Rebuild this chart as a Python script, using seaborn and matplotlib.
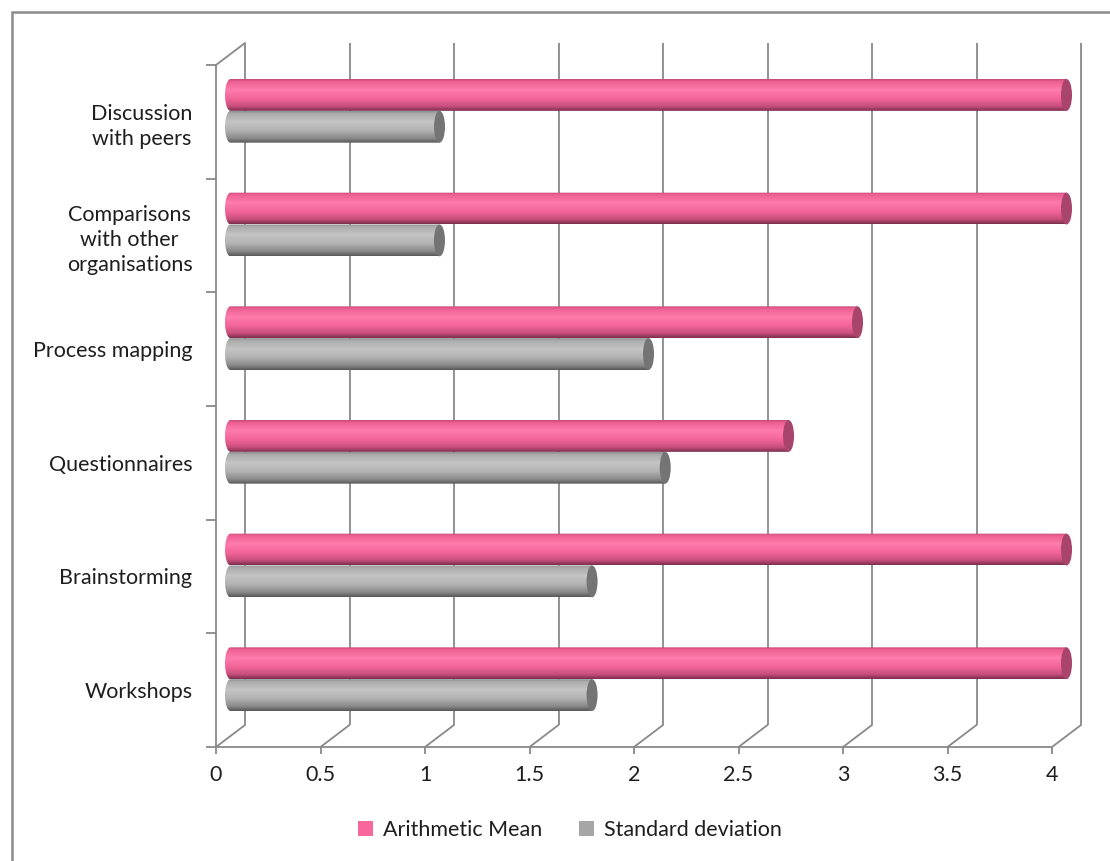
import numpy as np
import pandas as pd
import matplotlib
matplotlib.use("Agg")
import matplotlib.pyplot as plt
import matplotlib.transforms as mtransforms
from matplotlib.path import Path
from matplotlib.patches import PathPatch, Ellipse, Rectangle
from matplotlib.colors import LinearSegmentedColormap, to_rgb
from matplotlib.ticker import FixedLocator
import seaborn as sns

# ---- data ----
methods = [
    "Discussion\nwith peers",
    "Comparisons\nwith other\norganisations",
    "Process mapping",
    "Questionnaires",
    "Brainstorming",
    "Workshops",
]
arithmetic_mean = [4.0, 4.0, 3.0, 2.67, 4.0, 4.0]
standard_deviation = [1.0, 1.0, 2.0, 2.08, 1.73, 1.73]
series_names = ["Arithmetic Mean", "Standard deviation"]
x_ticks = [0, 0.5, 1, 1.5, 2, 2.5, 3, 3.5, 4]
x_tick_labels = ["0", "0.5", "1", "1.5", "2", "2.5", "3", "3.5", "4"]

df = pd.DataFrame({
    "Method": methods * 2,
    "Statistic": [series_names[0]] * len(methods) + [series_names[1]] * len(methods),
    "Value": arithmetic_mean + standard_deviation,
})

sns.set_theme(style="white")
plt.rcParams["font.family"] = ["Lato", "DejaVu Sans"]

W, H = 1110, 861
fig = plt.figure(figsize=(W / 100, H / 100), dpi=100)

# plot box (front plane) in pixels
px_left, px_right, px_top, px_bottom = 216, 1052, 65, 747
ax = fig.add_axes([px_left / W, (H - px_bottom) / H,
                   (px_right - px_left) / W, (px_bottom - px_top) / H])

pink = "#f8679c"
grey = "#a6a6a6"
sns.barplot(data=df, y="Method", x="Value", hue="Statistic", orient="h",
            width=0.56, palette=[pink, grey], ax=ax, legend=False,
            saturation=1, errorbar=None)

n = len(methods)
ax.set_xlim(0, 4)
ax.set_ylim(n - 0.5, -0.5)

# depth of the 3-D box, in data units
px_per_x = (px_right - px_left) / 4.0
px_per_cat = (px_bottom - px_top) / n
depth_px_x, depth_px_y = 29, 22
dx = depth_px_x / px_per_x
dy = depth_px_y / px_per_cat

frame_c = "#898989"
lw = 1.3
text_c = "#1e1e1e"
fs = 15.5

# back wall gridlines and floor diagonals
for xv in x_ticks:
    ax.plot([xv + dx, xv + dx], [n - 0.5 - dy, -0.5 - dy], color=frame_c,
            lw=lw, clip_on=False, zorder=1, solid_capstyle="butt")
    ax.plot([xv, xv + dx], [n - 0.5, n - 0.5 - dy], color=frame_c,
            lw=lw, clip_on=False, zorder=1)
# top of the left wall
ax.plot([0, dx], [-0.5, -0.5 - dy], color=frame_c, lw=lw, clip_on=False, zorder=1)

# spines = front edges of the box
for s in ["top", "right"]:
    ax.spines[s].set_visible(False)
for s in ["left", "bottom"]:
    ax.spines[s].set_color(frame_c)
    ax.spines[s].set_linewidth(lw)

ax.set_xticks(x_ticks)
ax.set_xticklabels(x_tick_labels)
ax.set_yticks(range(n))
ax.set_yticklabels(methods, multialignment="center", linespacing=1.33)
ax.yaxis.set_minor_locator(FixedLocator(np.arange(-0.5, n, 1.0)))
ax.tick_params(axis="x", which="major", length=5, width=lw, color=frame_c,
               direction="out", pad=8, labelsize=fs, labelcolor=text_c,
               bottom=True)
ax.tick_params(axis="y", which="major", length=0, pad=17, labelsize=fs,
               labelcolor=text_c, left=True)
ax.tick_params(axis="y", which="minor", length=7, width=lw, color=frame_c,
               direction="out", left=True)
ax.set_xlabel("")
ax.set_ylabel("")
ax.grid(False)
ax.set_facecolor("none")

# cylinder shading
def ramp(stops):
    return LinearSegmentedColormap.from_list("r", stops)

pink_ramp = ramp([(0.0, "#c24a77"), (0.08, "#ef5f92"), (0.33, "#ff7bad"),
                  (0.6, "#f3659b"), (0.85, "#c94f7d"), (1.0, "#7a2e4c")])
grey_ramp = ramp([(0.0, "#8e8e8e"), (0.08, "#acacac"), (0.33, "#c4c4c4"),
                  (0.6, "#b3b3b3"), (0.85, "#8a8a8a"), (1.0, "#565656")])
cap_colors = {pink: "#a9446d", grey: "#747474"}

shift = mtransforms.ScaledTranslation(14.5 / 100, 11 / 100, fig.dpi_scale_trans)
trans = ax.transData + shift
ex = 5.5 / px_per_x  # half-width of the end ellipses
grad = np.linspace(0, 1, 256)

bars = list(ax.patches)
for bar in bars:
    x0, y0 = bar.get_x(), bar.get_y()
    w, h = bar.get_width(), bar.get_height()
    fc = bar.get_facecolor()
    bar.set_visible(False)
    is_pink = np.allclose(fc[:3], to_rgb(pink), atol=0.02)
    cmap = pink_ramp if is_pink else grey_ramp
    cap = cap_colors[pink] if is_pink else cap_colors[grey]
    x1, y1 = x0 + w, y0 + h
    yc = (y0 + y1) / 2
    t = np.linspace(0, np.pi, 40)
    arc = np.column_stack([x0 - ex * np.sin(t), yc + (h / 2) * np.cos(t)])
    verts = np.vstack([[[x0, y0], [x1, y0], [x1, y1], [x0, y1]], arc, [[x0, y0]]])
    codes = [Path.MOVETO] + [Path.LINETO] * (len(verts) - 2) + [Path.CLOSEPOLY]
    clip = PathPatch(Path(verts, codes), transform=trans, facecolor="none",
                     edgecolor="none", clip_on=False)
    ax.add_patch(clip)
    img = cmap(grad)[:, None, :3]
    im = ax.imshow(img, extent=[x0 - ex, x1, y1, y0], origin="upper",
                   aspect="auto", transform=trans, interpolation="bilinear",
                   zorder=3)
    im.set_clip_box(fig.bbox)
    im.set_clip_path(clip)
    ax.add_patch(Ellipse((x1, yc), 2 * ex, h, transform=trans, facecolor=cap,
                         edgecolor="none", zorder=4, clip_on=False))

ax.set_xlim(0, 4)
ax.set_ylim(n - 0.5, -0.5)

# legend
handles = [Rectangle((0, 0), 1, 1, facecolor=pink, edgecolor="none"),
           Rectangle((0, 0), 1, 1, facecolor=grey, edgecolor="none")]
leg = fig.legend(handles, series_names, loc="center",
                 bbox_to_anchor=(570 / W, 1 - 830 / H), ncol=2, frameon=False,
                 fontsize=fs, handlelength=0.7, handleheight=0.7,
                 handletextpad=0.45, columnspacing=1.7)
for txt in leg.get_texts():
    txt.set_color(text_c)

# outer chart border
fig.add_artist(Rectangle((11.5 / W, -0.1), 1.2, 1 - 11.5 / H + 0.1,
                         transform=fig.transFigure, facecolor="none",
                         edgecolor="#8c8c8c", lw=1.8, clip_on=False))

fig.savefig("out.png", dpi=100, facecolor="white")
